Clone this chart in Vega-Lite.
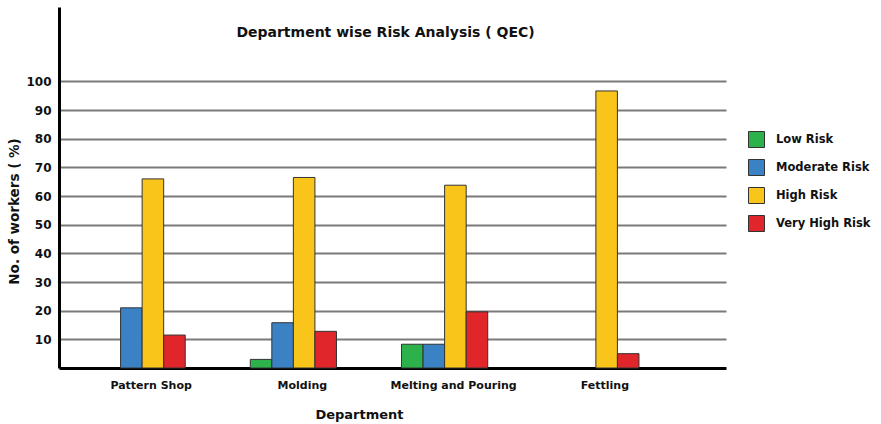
{
  "$schema": "https://vega.github.io/schema/vega-lite/v6.json",
  "autosize": {"type": "none"},
  "width": 667,
  "height": 361,
  "padding": {"left": 59, "top": 7, "right": 155, "bottom": 56},
  "background": "white",
  "title": {
    "text": "Department wise Risk Analysis ( QEC)",
    "font": "DejaVu Sans",
    "fontSize": 14,
    "fontWeight": "bold",
    "color": "#111",
    "anchor": "middle",
    "offset": 0,
    "baseline": "alphabetic",
    "dx": -7,
    "dy": 44
  },
  "data": {
    "values": [
      {"department": "Pattern Shop", "risk": "Moderate Risk", "value": 21},
      {"department": "Pattern Shop", "risk": "High Risk", "value": 66},
      {"department": "Pattern Shop", "risk": "Very High Risk", "value": 11.5},
      {"department": "Molding", "risk": "Low Risk", "value": 3},
      {"department": "Molding", "risk": "Moderate Risk", "value": 15.8},
      {"department": "Molding", "risk": "High Risk", "value": 66.5},
      {"department": "Molding", "risk": "Very High Risk", "value": 12.8},
      {"department": "Melting and Pouring", "risk": "Low Risk", "value": 8.3},
      {"department": "Melting and Pouring", "risk": "Moderate Risk", "value": 8.3},
      {"department": "Melting and Pouring", "risk": "High Risk", "value": 63.8},
      {"department": "Melting and Pouring", "risk": "Very High Risk", "value": 19.6},
      {"department": "Fettling", "risk": "High Risk", "value": 96.7},
      {"department": "Fettling", "risk": "Very High Risk", "value": 5}
    ]
  },
  "mark": {"type": "bar", "stroke": "#333", "strokeWidth": 1},
  "encoding": {
    "x": {
      "field": "department",
      "type": "nominal",
      "sort": ["Pattern Shop", "Molding", "Melting and Pouring", "Fettling"],
      "scale": {"paddingInner": 0.43, "paddingOuter": 0.42, "align": 0.315},
      "axis": {
        "title": "Department",
        "titleFont": "DejaVu Sans",
        "titleFontSize": 13,
        "titleFontWeight": "bold",
        "titleColor": "#111",
        "titleX": 300,
        "titleY": 50,
        "titleAlign": "center",
        "titleBaseline": "alphabetic",
        "labelAngle": 0,
        "labelFont": "DejaVu Sans",
        "labelFontSize": 11,
        "labelFontWeight": "bold",
        "labelColor": "#111",
        "labelPadding": 11,
        "labelOffset": 9,
        "ticks": false,
        "domainColor": "#000",
        "domainWidth": 3
      }
    },
    "xOffset": {
      "field": "risk",
      "type": "nominal",
      "scale": {
        "domain": ["Low Risk", "Moderate Risk", "High Risk", "Very High Risk"],
        "paddingInner": 0,
        "paddingOuter": 0
      }
    },
    "y": {
      "field": "value",
      "type": "quantitative",
      "scale": {"domain": [0, 126], "nice": false},
      "axis": {
        "title": "No. of workers ( %)",
        "titleFont": "DejaVu Sans",
        "titleFontSize": 13.5,
        "titleFontWeight": "bold",
        "titleColor": "#111",
        "titleX": -45,
        "titleY": 204,
        "titleAngle": -90,
        "titleAlign": "center",
        "titleBaseline": "middle",
        "values": [10, 20, 30, 40, 50, 60, 70, 80, 90, 100],
        "labelFont": "DejaVu Sans",
        "labelFontSize": 12,
        "labelFontWeight": "bold",
        "labelColor": "#111",
        "labelPadding": 8,
        "ticks": false,
        "grid": true,
        "gridColor": "#7a7a7a",
        "gridWidth": 2,
        "domainColor": "#000",
        "domainWidth": 3
      }
    },
    "color": {
      "field": "risk",
      "type": "nominal",
      "scale": {
        "domain": ["Low Risk", "Moderate Risk", "High Risk", "Very High Risk"],
        "range": ["#2db14a", "#3b82c4", "#f9c51b", "#e1262b"]
      },
      "legend": {
        "title": null,
        "orient": "none",
        "legendX": 689,
        "legendY": 124,
        "symbolType": "square",
        "symbolSize": 256,
        "symbolStrokeColor": "#333",
        "symbolStrokeWidth": 1,
        "symbolOpacity": 1,
        "labelFont": "DejaVu Sans",
        "labelFontSize": 11.5,
        "labelFontWeight": "bold",
        "labelColor": "#111",
        "labelOffset": 11,
        "rowPadding": 7
      }
    }
  },
  "config": {"view": {"stroke": null}}
}
